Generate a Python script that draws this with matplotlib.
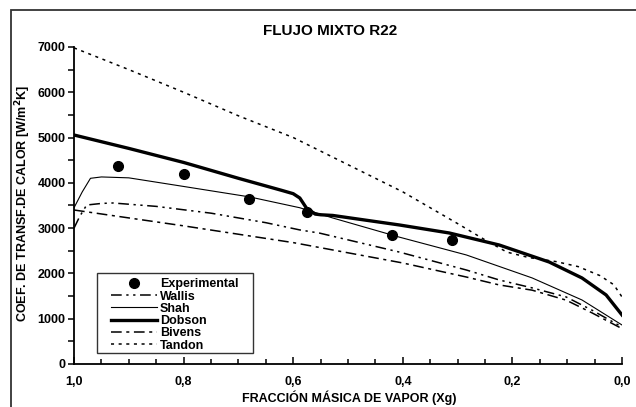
import matplotlib.pyplot as plt
from matplotlib.patches import Rectangle
from matplotlib.ticker import MultipleLocator, FuncFormatter

plt.rcParams['font.family'] = ['Liberation Sans', 'DejaVu Sans']
plt.rcParams['font.weight'] = 'bold'

# Puntos experimentales
x_exp = [0.92, 0.80, 0.68, 0.575, 0.42, 0.31]
h_exp = [4370, 4200, 3640, 3350, 2850, 2730]

# Correlaciones
x_wallis = [1.0, 0.99, 0.977, 0.95, 0.929, 0.85, 0.75, 0.65, 0.588, 0.552, 0.406, 0.284, 0.224, 0.164, 0.102, 0.055, 0.0]
h_wallis = [3000, 3250, 3510, 3545, 3555, 3480, 3330, 3120, 2960, 2890, 2470, 2075, 1855, 1680, 1480, 1190, 815]

x_shah = [1.0, 0.985, 0.97, 0.95, 0.9, 0.8, 0.68, 0.588, 0.528, 0.406, 0.284, 0.164, 0.073, 0.0]
h_shah = [3450, 3800, 4100, 4130, 4110, 3920, 3690, 3450, 3224, 2800, 2407, 1900, 1413, 861]

x_dobson = [1.0, 0.9, 0.8, 0.7, 0.62, 0.6, 0.588, 0.576, 0.56, 0.55, 0.528, 0.406, 0.315, 0.224, 0.133, 0.073, 0.029, 0.0]
h_dobson = [5056, 4760, 4450, 4100, 3830, 3760, 3665, 3445, 3310, 3295, 3280, 3069, 2892, 2627, 2252, 1899, 1524, 1082]

x_bivens = [1.0, 0.8, 0.6, 0.4, 0.284, 0.224, 0.164, 0.102, 0.055, 0.0]
h_bivens = [3400, 3050, 2680, 2230, 1920, 1745, 1630, 1410, 1130, 780]

x_tandon = [1.0, 0.9, 0.8, 0.7, 0.6, 0.5, 0.4, 0.3, 0.25, 0.21, 0.17, 0.12, 0.08, 0.04, 0.015, 0.0]
h_tandon = [6980, 6500, 6000, 5480, 5000, 4400, 3800, 3100, 2740, 2470, 2350, 2260, 2150, 1950, 1750, 1480]

fig = plt.figure(figsize=(6.36, 4.07), dpi=100)
ax = fig.add_axes([0.1164, 0.1057, 0.8616, 0.7789])

ax.plot(x_exp, h_exp, 'o', color='black', markersize=7, label='Experimental')
ax.plot(x_wallis, h_wallis, color='black', lw=1.1, ls=(0, (7, 3, 1.5, 3, 1.5, 3)), label='Wallis')
ax.plot(x_shah, h_shah, color='black', lw=0.8, label='Shah')
ax.plot(x_dobson, h_dobson, color='black', lw=2.4, label='Dobson')
ax.plot(x_bivens, h_bivens, color='black', lw=1.1, ls=(0, (7, 3, 2, 3)), label='Bivens')
ax.plot(x_tandon, h_tandon, color='black', lw=1.1, ls=(0, (2, 3)), label='Tandon')

ax.set_xlim(1.0, 0.0)
ax.set_ylim(0, 7000)

ax.spines['top'].set_visible(False)
ax.spines['right'].set_visible(False)
ax.spines['left'].set_linewidth(1.3)
ax.spines['bottom'].set_linewidth(1.3)

ax.xaxis.set_major_locator(MultipleLocator(0.2))
ax.xaxis.set_minor_locator(MultipleLocator(0.05))
ax.yaxis.set_major_locator(MultipleLocator(1000))
ax.yaxis.set_minor_locator(MultipleLocator(500))
ax.xaxis.set_major_formatter(FuncFormatter(lambda v, p: f'{v:.1f}'.replace('.', ',').replace('-', '')))

ax.tick_params(axis='x', which='both', direction='in', labelsize=9, pad=9)
ax.tick_params(axis='x', which='major', length=5, width=1.1)
ax.tick_params(axis='x', which='minor', length=3.5, width=1.1)
ax.tick_params(axis='y', which='both', direction='out', labelsize=9, pad=2)
ax.tick_params(axis='y', which='major', length=4, width=1.1)
ax.tick_params(axis='y', which='minor', length=4, width=1.1)

fig.text(0.519, 0.925, 'FLUJO MIXTO R22', ha='center', va='center', fontsize=11, fontweight='bold')
fig.text(0.549, 0.013, 'FRACCIÓN MÁSICA DE VAPOR (Xg)', ha='center', va='baseline', fontsize=9, fontweight='bold')
fig.text(0.036, 0.501, 'COEF. DE TRANSF.DE CALOR [W/m$^\\mathbf{2}$K]', ha='center', va='center',
         rotation=90, fontsize=9, fontweight='bold')

# caja de la leyenda dibujada aparte (mas margen a los lados que arriba/abajo)
ax.add_patch(Rectangle((0.042, 0.0347), 0.2846, 0.2523, transform=ax.transAxes, fill=False,
                       edgecolor='#333333', linewidth=1.0, zorder=4))
leg = ax.legend(loc='lower left', bbox_to_anchor=(0.0675, 0.039), frameon=False,
                handlelength=3.7, handletextpad=0.2, labelspacing=0.02, borderpad=0.0, borderaxespad=0,
                prop={'weight': 'bold', 'size': 9})

# marco exterior
fig.patches.append(Rectangle((11 / 636, -0.1), 1.0, 1 - 10 / 407 + 0.1, fill=False, edgecolor='#333333',
                             linewidth=1.3, transform=fig.transFigure, figure=fig))

fig.savefig('out.png', dpi=100)
